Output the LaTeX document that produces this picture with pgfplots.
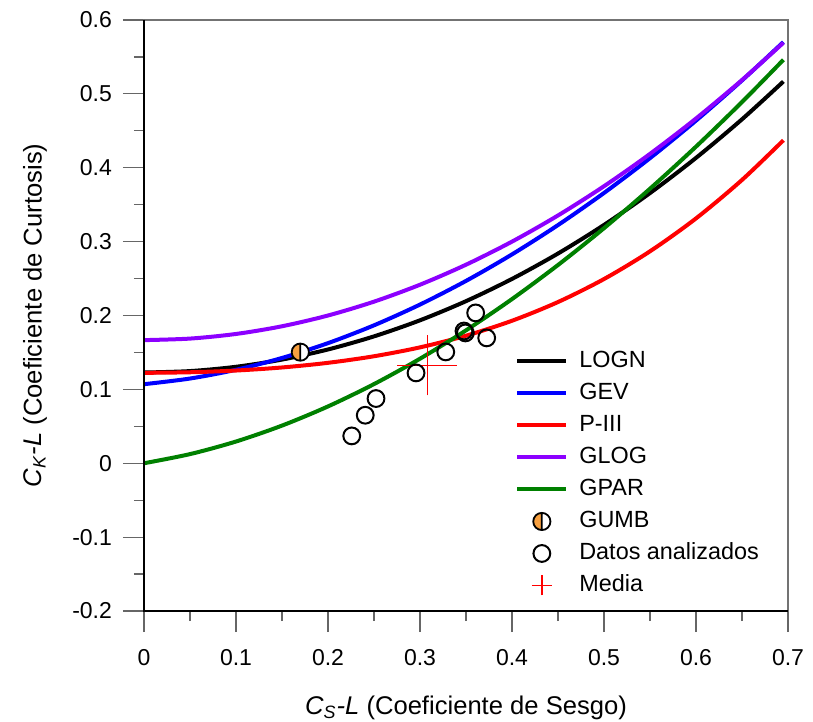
\documentclass[border=0pt]{standalone}
\usepackage{pgfplots}
\pgfplotsset{compat=1.18}
\usepackage{fontspec}
\setmainfont{Liberation Sans}

\definecolor{glogpurple}{RGB}{140,0,255}
\definecolor{gpargreen}{RGB}{0,128,0}
\definecolor{gumborange}{RGB}{247,160,64}
\definecolor{mediared}{RGB}{255,0,0}

% Half-filled disc used for the Gumbel point
\pgfdeclareplotmark{halfdisc}{%
  \pgfscope
    \pgfpathcircle{\pgfpointorigin}{\pgfplotmarksize}%
    \pgfsetfillcolor{white}%
    \pgfusepath{fill}%
  \endpgfscope
  \pgfscope
    \pgfpathmoveto{\pgfpoint{0pt}{\pgfplotmarksize}}%
    \pgfpatharc{90}{270}{\pgfplotmarksize}%
    \pgfpathclose
    \pgfsetfillcolor{gumborange}%
    \pgfusepath{fill}%
  \endpgfscope
  \pgfpathcircle{\pgfpointorigin}{\pgfplotmarksize}%
  \pgfpathmoveto{\pgfpoint{0pt}{\pgfplotmarksize}}%
  \pgfpathlineto{\pgfpoint{0pt}{-\pgfplotmarksize}}%
  \pgfusepath{stroke}%
}

% Theoretical L-moment ratio curves (tau3, tau4)
\pgfplotstableread{
t3     logn      gev       p3        glog      gpar
0.000  0.122820  0.107010  0.122400  0.166667  0.000000
0.050  0.124758  0.114668  0.123153  0.168750  0.012376
0.100  0.130584  0.126517  0.125507  0.175000  0.029412
0.150  0.140322  0.142509  0.129654  0.185417  0.050971
0.200  0.154015  0.162589  0.135942  0.200000  0.076923
0.250  0.171737  0.186707  0.144828  0.218750  0.107143
0.300  0.193490  0.214804  0.156859  0.241667  0.141509
0.350  0.219398  0.246826  0.172656  0.268750  0.179907
0.400  0.249508  0.282711  0.192884  0.300000  0.222222
0.450  0.283888  0.322403  0.218224  0.335417  0.268349
0.500  0.322602  0.365851  0.249345  0.375000  0.318182
0.550  0.365725  0.412987  0.286882  0.418750  0.371622
0.600  0.413345  0.463781  0.331420  0.466667  0.428571
0.650  0.465589  0.518188  0.383485  0.518750  0.488938
0.695  0.516721  0.570228  0.437170  0.569188  0.546115
}\curves

\pgfplotstableread{
cs      ck
0.2258  0.0370
0.2405  0.0650
0.2522  0.0876
0.2957  0.1223
0.3280  0.1507
0.3478  0.1790
0.3493  0.1764
0.3605  0.2035
0.3725  0.1697
}\datos

\begin{document}
\begin{tikzpicture}
\begin{axis}[
  scale only axis,
  width=322pt, height=295.5pt,
  xmin=0, xmax=0.7, ymin=-0.2, ymax=0.6,
  clip=false,
  xtick={0,0.1,0.2,0.3,0.4,0.5,0.6,0.7},
  ytick={-0.2,-0.1,0,0.1,0.2,0.3,0.4,0.5,0.6},
  minor x tick num=1, minor y tick num=1,
  tick align=outside,
  xtick pos=bottom, ytick pos=left,
  major tick length=10.5pt, minor tick length=5pt,
  every tick/.append style={black!60, line width=0.6pt},
  axis line style={black!55, line width=0.6pt},
  /pgf/number format/assume math mode=true,
  /pgf/number format/fixed,
  /pgf/number format/precision=1,
  tick label style={font=\fontsize{11.5}{13}\selectfont},
  xticklabel style={yshift=-5pt},
  yticklabel style={xshift=-2pt},
  xlabel={\textit{C}\textsubscript{\textit{S}}\textit{-L} (Coeficiente de Sesgo)},
  ylabel={\textit{C}\textsubscript{\textit{K}}\textit{-L} (Coeficiente de Curtosis)},
  label style={font=\fontsize{12.8}{15}\selectfont},
  xlabel style={at={(rel axis cs:0.5,0)}, yshift=-48.5pt, anchor=center},
  ylabel style={at={(rel axis cs:0,0.5)}, anchor=center, yshift=54.5pt},
  curvelegend/.style={legend image code/.code={%
    \draw[##1] (0pt,0pt) -- (24.5pt,0pt);
    \path (30pt,0pt);}},
  pointlegend/.style={legend image code/.code={%
    \draw[mark repeat=1,mark phase=1,##1] plot coordinates {(12.25pt,0pt)};
    \path (0pt,0pt) (30pt,0pt);}},
  crosslegend/.style={legend image code/.code={%
    \draw[mediared, line width=0.8pt] (7.25pt,0pt) -- (17.25pt,0pt)
      (12.25pt,-5pt) -- (12.25pt,5pt);
    \path (0pt,0pt) (30pt,0pt);}},
  legend cell align=left,
  legend style={draw=none, fill=none, inner sep=0pt,
    font=\fontsize{11.7}{14}\selectfont,
    at={(rel axis cs:0.576,0.4415)}, anchor=north west,
    nodes={inner sep=0pt, text height=8.5pt, text depth=2.5pt},
    row sep=5pt},
]
\coordinate (sw) at (rel axis cs:0,0);
\coordinate (ne) at (rel axis cs:1,1);

\addplot[black, line width=2pt, smooth, curvelegend] table[x=t3, y=logn] {\curves};
\addlegendentry{LOGN}
\addplot[blue, line width=2pt, smooth, curvelegend] table[x=t3, y=gev] {\curves};
\addlegendentry{GEV}
\addplot[red, line width=2pt, smooth, curvelegend] table[x=t3, y=p3] {\curves};
\addlegendentry{P-III}
\addplot[glogpurple, line width=2pt, smooth, curvelegend] table[x=t3, y=glog] {\curves};
\addlegendentry{GLOG}
\addplot[gpargreen, line width=2pt, smooth, curvelegend] table[x=t3, y=gpar] {\curves};
\addlegendentry{GPAR}

\addplot[only marks, mark=halfdisc, mark size=4.3pt, black, line width=0.9pt, pointlegend]
  coordinates {(0.1699,0.1504)};
\addlegendentry{GUMB}

\addplot[only marks, mark=o, mark size=4.2pt, black, line width=1pt, pointlegend]
  table[x=cs, y=ck] {\datos};
\addlegendentry{Datos analizados}

% Sample mean of the analysed data (0.308, 0.1324), drawn as a cross
\addplot[color=mediared, draw=mediared, line width=0.8pt, unbounded coords=jump, crosslegend]
  coordinates {(0.2755,0.1324) (0.3405,0.1324) (0.308,inf) (0.308,0.0918) (0.308,0.1730)};
\addlegendentry{Media}
\end{axis}
\draw[black, line width=0.6pt] (sw |- ne) -- (sw) -- (ne |- sw);
\pgfresetboundingbox
\useasboundingbox (sw) ++(-72pt,-55.5pt) rectangle ([xshift=12.5pt,yshift=10pt]ne);
\end{tikzpicture}
\end{document}
